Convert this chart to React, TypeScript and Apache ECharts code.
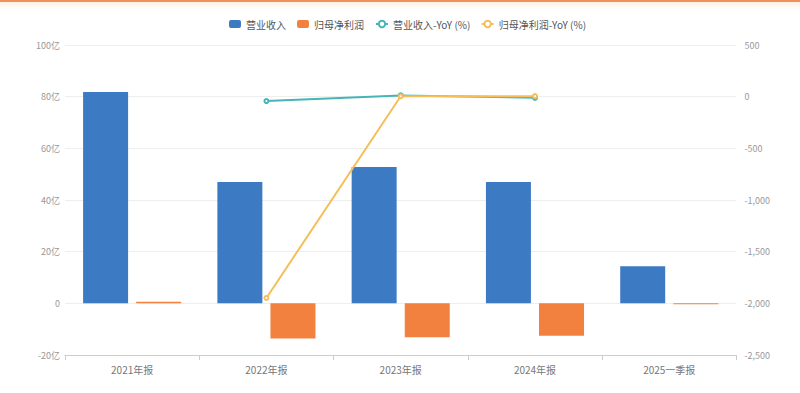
import React, { useEffect, useRef } from "react";
import * as echarts from "echarts";

const categories = ["2021年报", "2022年报", "2023年报", "2024年报", "2025一季报"];
const revenue = [81.8, 47.0, 52.8, 47.0, 14.4];
const netProfit = [0.6, -13.6, -13.1, -12.5, -0.4];
const revenueYoY: (number | null)[] = [null, -42.6, 12.4, -11.0, null];
const profitYoY: (number | null)[] = [null, -1948, 3.5, 5.0, null];
const leftTicks = { min: -20, max: 100, interval: 20 };
const rightTicks = { min: -2500, max: 500, interval: 500 };

export default function App() {
  const ref = useRef<HTMLDivElement>(null);
  useEffect(() => {
    if (!ref.current) return;
    const chart = echarts.init(ref.current, undefined, { renderer: "svg" });
    const font = "'Noto Sans CJK SC', 'Noto Sans', sans-serif";
    chart.setOption({
      animation: false,
      textStyle: { fontFamily: font },
      legend: {
        top: 14,
        left: 224,
        itemWidth: 12,
        itemHeight: 8,
        itemGap: 11,
        textStyle: { fontSize: 10, color: "#555", fontFamily: font },
        data: ["营业收入", "归母净利润", "营业收入-YoY (%)", "归母净利润-YoY (%)"],
      },
      grid: { left: 65, right: 36, top: 45, bottom: 38 },
      xAxis: {
        type: "category",
        data: categories,
        axisLine: { onZero: false, lineStyle: { color: "#ccc" } },
        axisTick: { show: true, lineStyle: { color: "#ccc" } },
        axisLabel: { color: "#777", fontSize: 10, margin: 9, fontFamily: font },
      },
      yAxis: [
        {
          type: "value",
          min: leftTicks.min,
          max: leftTicks.max,
          interval: leftTicks.interval,
          axisLine: { show: false },
          axisTick: { show: false },
          splitLine: { lineStyle: { color: "#eee" } },
          axisLabel: {
            color: "#999",
            fontSize: 9,
            margin: 5,
            fontFamily: font,
            formatter: (v: number) => (v === 0 ? "0" : v + "亿"),
          },
        },
        {
          type: "value",
          min: rightTicks.min,
          max: rightTicks.max,
          interval: rightTicks.interval,
          axisLine: { show: false },
          axisTick: { show: false },
          splitLine: { show: false },
          axisLabel: {
            color: "#999",
            fontSize: 9,
            margin: 8,
            fontFamily: font,
            formatter: (v: number) => v.toLocaleString("en-US"),
          },
        },
      ],
      series: [
        {
          name: "营业收入",
          type: "bar",
          data: revenue,
          barWidth: 45,
          barGap: "18%",
          itemStyle: { color: "#3D7AC4" },
        },
        {
          name: "归母净利润",
          type: "bar",
          data: netProfit,
          barWidth: 45,
          itemStyle: { color: "#F2803E" },
        },
        {
          name: "营业收入-YoY (%)",
          type: "line",
          yAxisIndex: 1,
          data: revenueYoY,
          symbol: "emptyCircle",
          symbolSize: 4,
          lineStyle: { width: 2, color: "#45B5B8" },
          itemStyle: { color: "#45B5B8" },
        },
        {
          name: "归母净利润-YoY (%)",
          type: "line",
          yAxisIndex: 1,
          data: profitYoY,
          symbol: "emptyCircle",
          symbolSize: 4,
          lineStyle: { width: 2, color: "#F6BE5A" },
          itemStyle: { color: "#F6BE5A" },
        },
      ],
    });
    return () => chart.dispose();
  }, []);
  return (
    <div style={{ position: "absolute", left: 0, top: 0, width: 800, height: 393, background: "#fff", overflow: "hidden" }}>
      <div style={{ position: "absolute", left: 0, top: 0, width: 800, height: 2, background: "#F0905A" }} />
      <div style={{ position: "absolute", left: 0, top: 2, width: 800, height: 8, background: "linear-gradient(#FDF0E6, #ffffff)" }} />
      <div ref={ref} style={{ position: "absolute", left: 0, top: 0, width: 773, height: 393 }} />
    </div>
  );
}
